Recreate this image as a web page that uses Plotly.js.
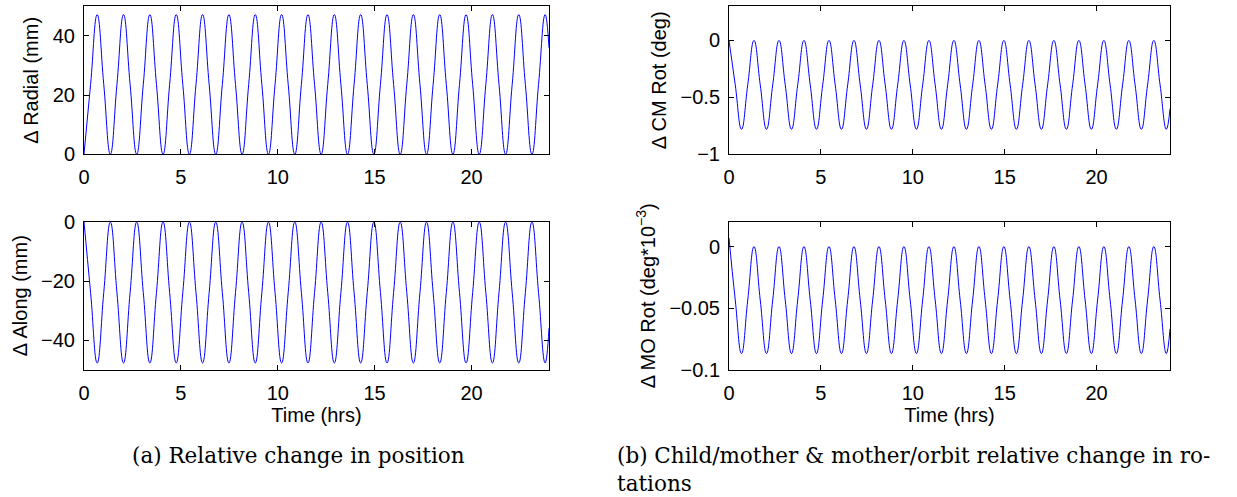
<!DOCTYPE html>
<html>
<head>
<meta charset="utf-8">
<script src="https://cdn.plot.ly/plotly-3.0.1.min.js"></script>
<style>html,body{margin:0;padding:0;background:#fff;}#chart{width:1237px;height:497px;}</style>
</head>
<body>
<div id="chart"></div>
<script>
// Time samples (hrs), read at the quarter-orbit points of the curves
const hours = [0,0.34,0.68,1.02,1.36,1.7,2.04,2.38,2.72,3.06,3.4,3.74,4.08,4.42,4.76,5.1,5.44,5.78,6.12,6.46,6.8,7.14,7.48,7.82,8.16,8.5,8.84,9.18,9.52,9.86,10.2,10.54,10.88,11.22,11.56,11.9,12.24,12.58,12.92,13.26,13.6,13.94,14.28,14.62,14.96,15.3,15.64,15.98,16.32,16.66,17.0,17.34,17.68,18.02,18.36,18.7,19.04,19.38,19.72,20.06,20.4,20.74,21.08,21.42,21.76,22.1,22.44,22.78,23.12,23.46,23.8,24];

// Δ Radial (mm)
const radial = [0,23.6,47.2,23.6, 0,23.6,47.2,23.6, 0,23.6,47.2,23.6, 0,23.6,47.2,23.6, 0,23.6,47.2,23.6, 0,23.6,47.2,23.6, 0,23.6,47.2,23.6, 0,23.6,47.2,23.6, 0,23.6,47.2,23.6, 0,23.6,47.2,23.6, 0,23.6,47.2,23.6, 0,23.6,47.2,23.6, 0,23.6,47.2,23.6, 0,23.6,47.2,23.6, 0,23.6,47.2,23.6, 0,23.6,47.2,23.6, 0,23.6,47.2,23.6, 0,23.6,47.2, 36];

// Δ Along (mm)
const along = [0,-23.9,-47.8,-23.9, 0,-23.9,-47.8,-23.9, 0,-23.9,-47.8,-23.9, 0,-23.9,-47.8,-23.9, 0,-23.9,-47.8,-23.9, 0,-23.9,-47.8,-23.9, 0,-23.9,-47.8,-23.9, 0,-23.9,-47.8,-23.9, 0,-23.9,-47.8,-23.9, 0,-23.9,-47.8,-23.9, 0,-23.9,-47.8,-23.9, 0,-23.9,-47.8,-23.9, 0,-23.9,-47.8,-23.9, 0,-23.9,-47.8,-23.9, 0,-23.9,-47.8,-23.9, 0,-23.9,-47.8,-23.9, 0,-23.9,-47.8,-23.9, 0,-23.9,-47.8, -36];

// Δ CM Rot (deg)
const cmRot = [0,-0.39,-0.78,-0.39, 0,-0.39,-0.78,-0.39, 0,-0.39,-0.78,-0.39, 0,-0.39,-0.78,-0.39, 0,-0.39,-0.78,-0.39, 0,-0.39,-0.78,-0.39, 0,-0.39,-0.78,-0.39, 0,-0.39,-0.78,-0.39, 0,-0.39,-0.78,-0.39, 0,-0.39,-0.78,-0.39, 0,-0.39,-0.78,-0.39, 0,-0.39,-0.78,-0.39, 0,-0.39,-0.78,-0.39, 0,-0.39,-0.78,-0.39, 0,-0.39,-0.78,-0.39, 0,-0.39,-0.78,-0.39, 0,-0.39,-0.78,-0.39, 0,-0.39,-0.78, -0.6];

// Δ MO Rot (deg*10^-3)
const moRot = [0.007,-0.0435,-0.087,-0.0435, 0,-0.0435,-0.087,-0.0435, 0,-0.0435,-0.087,-0.0435, 0,-0.0435,-0.087,-0.0435, 0,-0.0435,-0.087,-0.0435, 0,-0.0435,-0.087,-0.0435, 0,-0.0435,-0.087,-0.0435, 0,-0.0435,-0.087,-0.0435, 0,-0.0435,-0.087,-0.0435, 0,-0.0435,-0.087,-0.0435, 0,-0.0435,-0.087,-0.0435, 0,-0.0435,-0.087,-0.0435, 0,-0.0435,-0.087,-0.0435, 0,-0.0435,-0.087,-0.0435, 0,-0.0435,-0.087,-0.0435, 0,-0.0435,-0.087,-0.0435, 0,-0.0435,-0.087,-0.0435, 0,-0.0435,-0.087, -0.067];

const xTickVals = [0,5,10,15,20];
const radialTicks = [0,20,40];
const radialTickText = ['0','20','40'];
const alongTicks = [-40,-20,0];
const alongTickText = ['\u221240','\u221220','0'];
const cmTicks = [-1,-0.5,0];
const cmTickText = ['\u22121','\u22120.5','0'];
const moTicks = [-0.1,-0.05,0];
const moTickText = ['\u22120.1','\u22120.05','0'];

const W = 1237, H = 497;
const FONT = 'Liberation Sans, Arial, Helvetica, sans-serif';
const SERIF = 'DejaVu Serif, Liberation Serif, serif';
const FS = 20;
const CAP = 21.5;
const lineStyle = {color:'#0000ff', width:1, shape:'spline', smoothing:1.3};

function tr(y, xa, ya){
  return {x: hours, y: y, type:'scatter', mode:'lines', line: lineStyle, xaxis: xa, yaxis: ya, hoverinfo:'skip'};
}

function xAxis(domain, anchor, title){
  const a = {domain: domain, anchor: anchor, range:[0,24], tickmode:'array', tickvals: xTickVals,
    ticks:'inside', ticklen:5, tickcolor:'#000', showline:true, linecolor:'#000', linewidth:1,
    mirror:'allticks', showgrid:false, zeroline:false, ticklabelstandoff:5,
    tickfont:{family:FONT, size:FS, color:'#000'}};
  if (title) a.title = {text: title, font:{family:FONT, size:FS, color:'#000'}, standoff:2};
  return a;
}
function yAxis(domain, anchor, range, vals, text, title){
  return {domain: domain, anchor: anchor, range: range, tickmode:'array', tickvals: vals, ticktext: text,
    ticks:'inside', ticklen:5, tickcolor:'#000', showline:true, linecolor:'#000', linewidth:1,
    mirror:'allticks', showgrid:false, zeroline:false, ticklabelstandoff:4,
    tickfont:{family:FONT, size:FS, color:'#000'},
    title:{text: title, font:{family:FONT, size:FS, color:'#000'}, standoff:8}};
}

const xL = [84/W, 549/W], xR = [729/W, 1170/W];
const yT = [1-154.3/H, 1-6.3/H], yB = [1-369.5/H, 1-222/H];

const data = [
  tr(radial,'x','y'),
  tr(along,'x2','y2'),
  tr(cmRot,'x3','y3'),
  tr(moRot,'x4','y4')
];

const layout = {
  width: W, height: H, autosize:false,
  margin:{l:0,r:0,t:0,b:0},
  paper_bgcolor:'#fff', plot_bgcolor:'#fff',
  showlegend:false,
  xaxis: xAxis(xL,'y',null),
  yaxis: yAxis(yT,'x',[0,50],radialTicks,radialTickText,'\u0394 Radial (mm)'),
  xaxis2: xAxis(xL,'y2','Time (hrs)'),
  yaxis2: yAxis(yB,'x2',[-50,0],alongTicks,alongTickText,'\u0394 Along (mm)'),
  xaxis3: xAxis(xR,'y3',null),
  yaxis3: yAxis(yT,'x3',[-1,0.3],cmTicks,cmTickText,'\u0394 CM Rot (deg)'),
  xaxis4: xAxis(xR,'y4','Time (hrs)'),
  yaxis4: yAxis(yB,'x4',[-0.1,0.02],moTicks,moTickText,'\u0394 MO Rot (deg*10<sup>\u22123</sup>)'),
  annotations:[
    {xref:'paper', yref:'paper', x:298/W, y:1-455/H, xanchor:'center', yanchor:'middle', showarrow:false,
     text:'(a) Relative change in position', font:{family:SERIF, size:CAP, color:'#000'}},
    {xref:'paper', yref:'paper', x:615/W, y:1-455/H, xanchor:'left', yanchor:'middle', showarrow:false,
     text:'(b) Child/mother &amp; mother/orbit relative change in ro-', font:{family:SERIF, size:CAP, color:'#000'}},
    {xref:'paper', yref:'paper', x:615/W, y:1-483/H, xanchor:'left', yanchor:'middle', showarrow:false,
     text:'tations', font:{family:SERIF, size:CAP, color:'#000'}}
  ]
};

Plotly.newPlot('chart', data, layout, {staticPlot:true, displayModeBar:false});
</script>
</body>
</html>
